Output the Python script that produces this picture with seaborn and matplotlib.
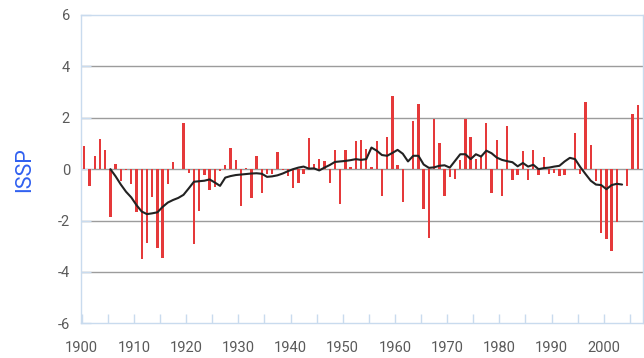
import numpy as np
import matplotlib
matplotlib.use("Agg")
import matplotlib.pyplot as plt
from matplotlib.ticker import MultipleLocator
import seaborn as sns

# Annual index values, 1900-2006
years = list(range(1900, 2007))
issp = [
    0.91, -0.65, 0.52, 1.17, 0.75, -1.86, 0.20, -0.45, -0.03, -0.58,   # 1900s
    -1.66, -3.50, -2.86, -1.10, -3.05, -3.47, -0.58, 0.29, 0.02, 1.80,  # 1910s
    -0.16, -2.92, -1.62, -0.23, -0.82, -0.71, -0.08, 0.16, 0.84, 0.36,  # 1920s
    -1.45, 0.06, -1.13, 0.50, -0.92, -0.20, -0.20, 0.68, -0.05, -0.26,  # 1930s
    -0.75, -0.52, -0.20, 1.23, 0.20, 0.39, 0.31, -0.55, 0.74, -1.36,    # 1940s
    0.75, 0.08, 1.08, 1.13, 0.78, 0.08, 1.08, -1.04, 1.27, 2.86,        # 1950s
    0.16, -1.26, 0.02, 1.86, 2.54, -1.56, -2.67, 1.95, 1.00, -1.04,     # 1960s
    -0.30, -0.39, 0.36, 1.95, 1.27, 0.38, 0.49, 1.78, -0.91, 1.13,      # 1970s
    -1.04, 1.69, -0.43, -0.21, 0.71, -0.43, 0.75, -0.22, 0.49, -0.20,   # 1980s
    -0.16, -0.26, -0.23, 0.02, 1.39, -0.17, 2.60, 0.95, -0.48, -2.48,   # 1990s
    -2.73, -3.18, -2.04, 0.01, -0.65, 2.14, 2.49,                       # 2000s
]

# Smoothed index, 1905-2003
smooth_years = list(range(1905, 2004))
smooth = [
    0.00, -0.28, -0.60, -0.88, -1.10,
    -1.40, -1.65, -1.75, -1.72, -1.68, -1.47, -1.30, -1.20, -1.12, -1.00,
    -0.75, -0.49, -0.47, -0.45, -0.40, -0.52, -0.65, -0.33, -0.27, -0.23,
    -0.21, -0.19, -0.17, -0.16, -0.18, -0.30, -0.28, -0.24, -0.17, -0.08,
    0.00, 0.06, 0.10, 0.02, 0.03, -0.05, 0.06, 0.16, 0.28, 0.30,
    0.32, 0.35, 0.39, 0.36, 0.39, 0.84, 0.72, 0.55, 0.52, 0.63,
    0.75, 0.60, 0.30, 0.52, 0.52, 0.18, 0.05, 0.07, 0.13, 0.15,
    0.06, 0.32, 0.58, 0.58, 0.39, 0.58, 0.49, 0.72, 0.62, 0.45,
    0.36, 0.31, 0.27, 0.11, 0.24, 0.10, 0.17, 0.00, 0.04, 0.06,
    0.10, 0.13, 0.30, 0.44, 0.39, 0.08, -0.19, -0.45, -0.60, -0.62,
    -0.78, -0.62, -0.57, -0.60,
]

x_ticks = list(range(1900, 2001, 10))
y_ticks = [-6, -4, -2, 0, 2, 4, 6]

sns.set_theme(style="white")
plt.rcParams["font.family"] = ["Roboto", "DejaVu Sans"]

frame_blue = "#c9dbee"
grid_grey = "#9c9c9c"
label_grey = "#5a5a5a"

fig = plt.figure(figsize=(6.44, 3.58), dpi=100)
ax = fig.add_axes([81 / 644, 1 - 323.3 / 358, 561.7 / 644, (323.3 - 15) / 358])

# values are plotted at mid-year
bar_x = np.array(years) + 0.5
line_x = np.array(smooth_years) + 0.5

for yv in [-4, -2, 0, 2, 4]:
    ax.axhline(yv, color=grid_grey, lw=1.0, zorder=0)

sns.barplot(x=bar_x, y=issp, native_scale=True, color="#e5393a",
            width=0.45, saturation=1, linewidth=0, ax=ax, zorder=2)
sns.lineplot(x=line_x, y=smooth, color="#222222", lw=1.5, ax=ax, zorder=3)

ax.set_xlim(1899.87, 2007.45)
ax.set_ylim(-6, 6)
ax.set_xticks(x_ticks)
ax.set_xticklabels([str(t) for t in x_ticks])
ax.xaxis.set_minor_locator(MultipleLocator(5))
ax.set_yticks(y_ticks)
ax.set_yticklabels([str(t) for t in y_ticks])

ax.tick_params(axis="both", which="both", direction="in", color=frame_blue,
               width=1.0, labelcolor=label_grey, labelsize=10.5)
ax.tick_params(axis="x", which="both", length=6.5, pad=12.5, bottom=True)
ax.tick_params(axis="y", which="both", length=7, pad=8, left=True)

for side in ["left", "right", "top", "bottom"]:
    ax.spines[side].set_visible(True)
    ax.spines[side].set_color(frame_blue)
    ax.spines[side].set_linewidth(1.0)

ax.set_xlabel("")
ax.set_ylabel("ISSP", color="#3060f0", fontsize=15.5, va="center")
ax.yaxis.set_label_coords(-0.0997, 0.5)

fig.savefig("out.png", dpi=100)
